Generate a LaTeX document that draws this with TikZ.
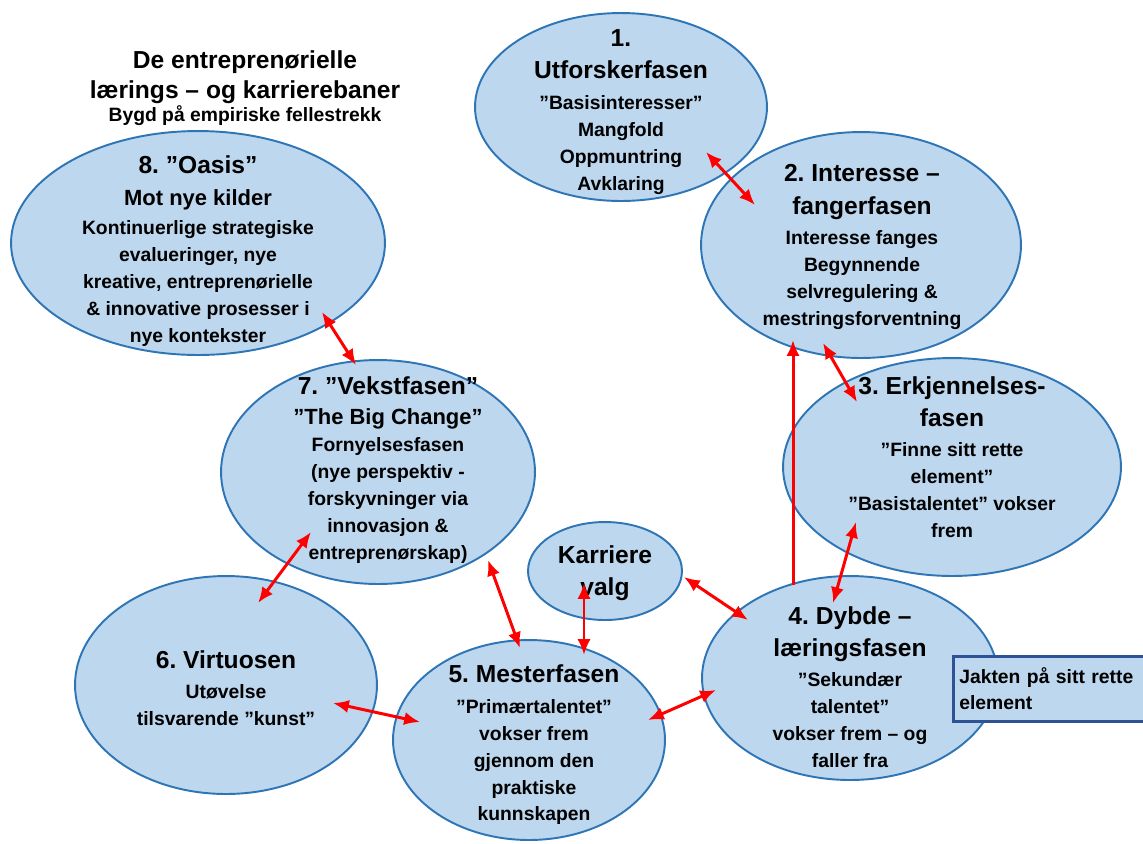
\documentclass[tikz,border=0pt]{standalone}
\usepackage{fontspec}
\setmainfont{Liberation Sans}
\usepackage{xcolor}
\usetikzlibrary{shapes.geometric,arrows.meta,calc}
\definecolor{phasefill}{RGB}{189,215,238}
\definecolor{phaseline}{RGB}{46,117,182}
\definecolor{huntline}{RGB}{47,82,150}
\newcommand{\hd}{\fontsize{14}{18}\selectfont}
\newcommand{\md}{\fontsize{12.5}{16}\selectfont}
\frenchspacing
\tikzset{%Global config
	>={Latex[length=9pt,width=7.5pt]},
	%Styles
	Phase/.style={
		ellipse,
		draw=phaseline,
		fill=phasefill,
		line width=1.1pt,
		inner sep=0pt,
	},
	Txt/.style={
		align=center,
		inner sep=0pt,
		font=\bfseries\fontsize{11}{15.3}\selectfont,
	},
	Title/.style={
		align=center,
		inner sep=0pt,
		font=\bfseries\fontsize{14}{17}\selectfont,
	},
	Sub/.style={
		inner sep=0pt,
		font=\bfseries\fontsize{11}{13}\selectfont,
	},
	Hunt/.style={
		draw=huntline,
		fill=phasefill,
		line width=1.5pt,
		align=left,
		anchor=north west,
		text width=6cm,
		inner xsep=0.12cm,
		minimum height=1.3cm,
		font=\bfseries\fontsize{11}{14.7}\selectfont,
	},
	Link/.style={
		<->,
		red,
		line width=1.7pt,
	},
}

\begin{document}
\begin{tikzpicture}[x=0.02cm, y=-0.02cm]
	\useasboundingbox (0,0) rectangle (1143,843);
	\clip (0,0) rectangle (1143,843);
	% title
	\node[Title] (title) at (245,77) {De entreprenørielle\\lærings – og karrierebaner};
	\node[Sub] (sub) at (245,116) {Bygd på empiriske fellestrekk};
	
	% the phases
	\node[Phase, minimum width=5.84cm, minimum height=3.76cm] (e1) at (621,107) {};
	\node[Phase, minimum width=6.4cm, minimum height=4.52cm] (e2) at (861,245) {};
	\node[Phase, minimum width=6.76cm, minimum height=4.36cm] (e3) at (952,467) {};
	\node[Phase, minimum width=5.92cm, minimum height=4.08cm] (e4) at (850,678) {};
	\node[Phase, minimum width=5.44cm, minimum height=4.0cm] (e5) at (529,740) {};
	\node[Phase, minimum width=6.04cm, minimum height=4.36cm] (e6) at (226,685) {};
	\node[Phase, minimum width=6.28cm, minimum height=4.48cm] (e7) at (378,472) {};
	\node[Phase, minimum width=7.48cm, minimum height=4.48cm] (e8) at (198,243) {};
	\node[Phase, minimum width=3.08cm, minimum height=1.96cm] (kv) at (605,571) {};
	\node[Hunt] (hunt) at (952,655) {Jakten på sitt rette\\element};
	
	% texts
	\node[Txt] (t1) at (621,112) {{\hd 1.}\\[3pt]{\hd Utforskerfasen}\\[2pt]”Basisinteresser”\\Mangfold\\Oppmuntring\\Avklaring};
	\node[Txt] (t2) at (862,247) {{\hd 2. Interesse –}\\[3pt]{\hd fangerfasen}\\[2pt]Interesse fanges\\Begynnende\\selvregulering \&\\mestringsforventning};
	\node[Txt] (t3) at (952,457) {{\hd 3. Erkjennelses-}\\[3pt]{\hd fasen}\\[2pt]”Finne sitt rette\\element”\\”Basistalentet” vokser\\frem};
	\node[Txt] (t4) at (850,687) {{\hd 4. Dybde –}\\[3pt]{\hd læringsfasen}\\[2pt]”Sekundær\\talentet”\\vokser frem – og\\faller fra};
	\node[Txt] (t5) at (534,745) {{\hd 5. Mesterfasen}\\[2pt]”Primærtalentet”\\vokser frem\\gjennom den\\praktiske\\kunnskapen};
	\node[Txt] (t6) at (226,688) {{\hd 6. Virtuosen}\\[2pt]Utøvelse\\tilsvarende ”kunst”};
	\node[Txt] (t7) at (388,470) {{\hd 7. ”Vekstfasen”}\\[2pt]{\md ”The Big Change”}\\Fornyelsesfasen\\(nye perspektiv -\\forskyvninger via\\innovasjon \&\\entreprenørskap)};
	\node[Txt] (t8) at (198,251) {{\hd 8. ”Oasis”}\\[3pt]{\md Mot nye kilder}\\[1pt]Kontinuerlige strategiske\\evalueringer, nye\\kreative, entreprenørielle\\\& innovative prosesser i\\nye kontekster};
	\node[Txt] (tk) at (605,573) {{\hd Karriere}\\[3pt]{\hd valg}};
	
	% connections
	\draw[Link] ($(e1)+(85,45)$) -- ($(e2)+(-106,-40)$);
	\draw[Link] ($(e2)+(-38,98)$) -- ($(e3)+(-95,-65)$);
	\draw[Link,->] ($(e4)+(-57,-93)$) -- ($(e2)+(-68,95)$);
	\draw[Link] ($(e3)+(-96,55)$) -- ($(e4)+(-17,-75)$);
	\draw[Link] ($(kv)+(79,6)$) -- ($(e4)+(-102,-58)$);
	\draw[Link] ($(kv)+(-21,12)$) -- ($(e5)+(55,-85)$);
	\draw[Link] ($(e4)+(-134,12)$) -- ($(e5)+(119,-20)$);
	\draw[Link] ($(e6)+(107,18)$) -- ($(e5)+(-109,-18)$);
	\draw[Link] ($(e7)+(-67,60)$) -- ($(e6)+(32,-82)$);
	\draw[Link] ($(e7)+(110,88)$) -- ($(e5)+(-9,-92)$);
	\draw[Link] ($(e8)+(124,69)$) -- ($(e7)+(-22,-107)$);
\end{tikzpicture}
\end{document}
